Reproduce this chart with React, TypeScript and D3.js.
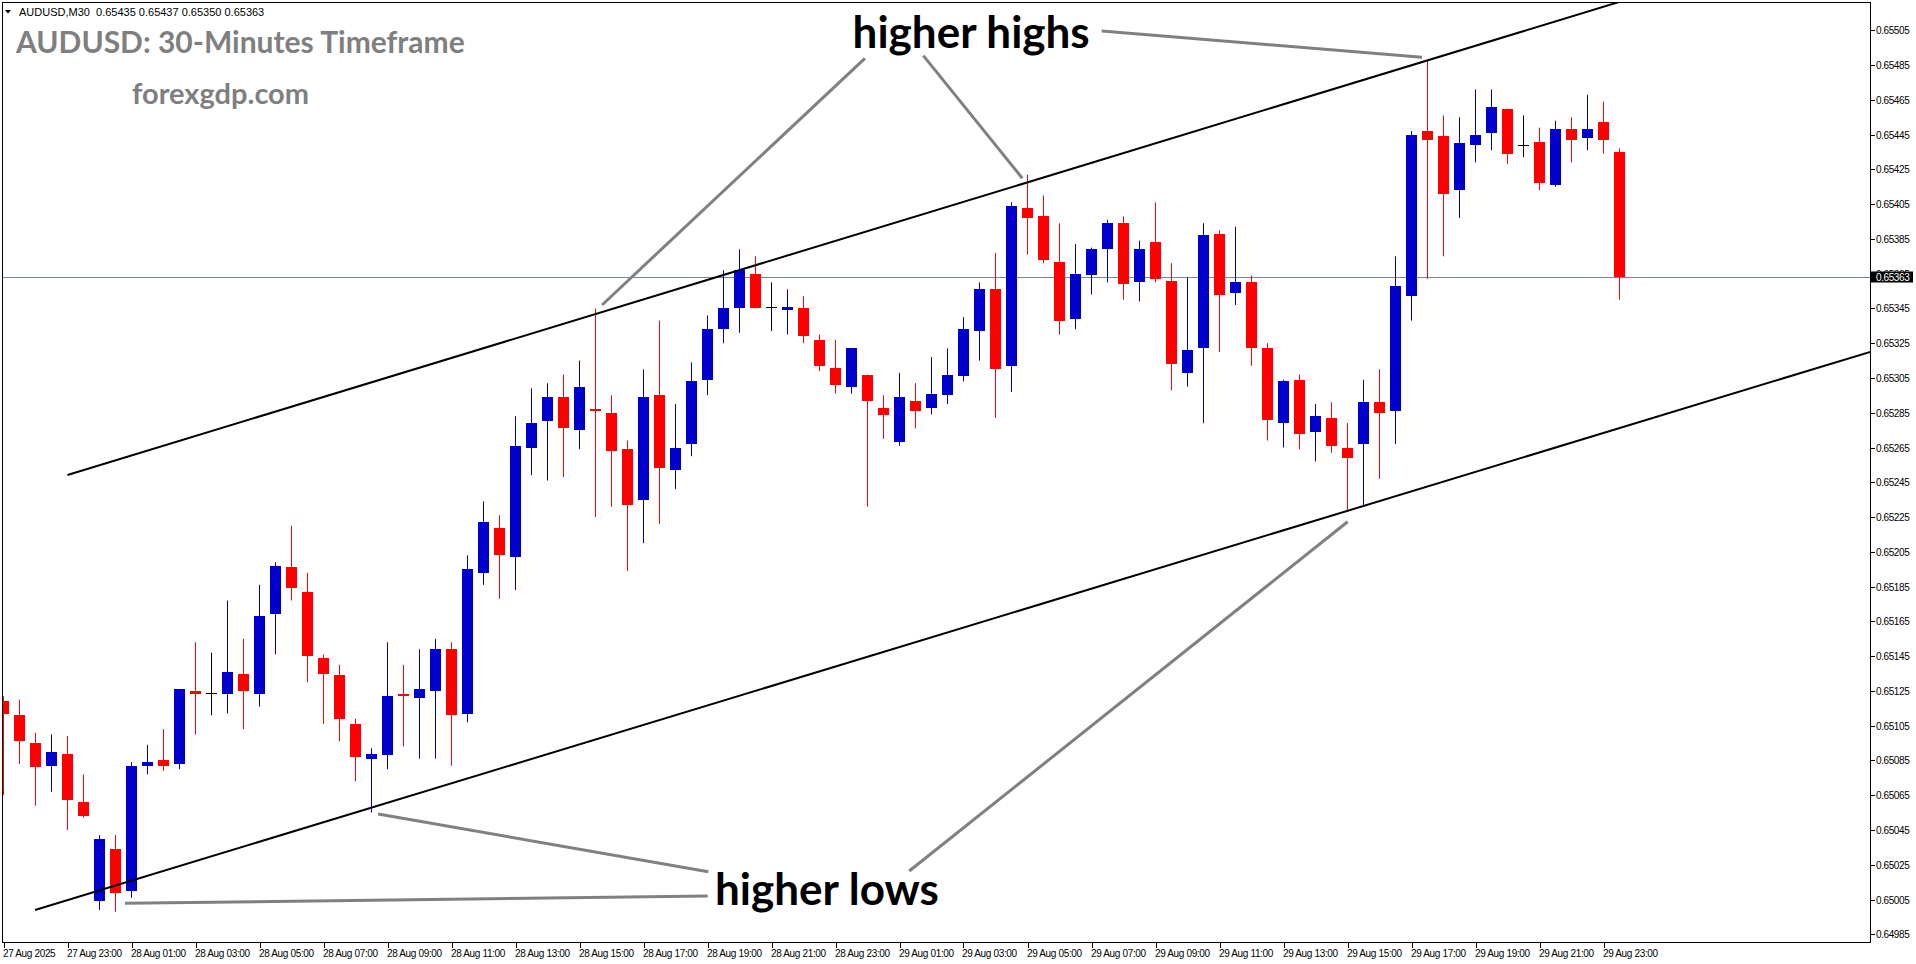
import { useEffect, useRef } from 'react';
import * as d3 from 'd3';

const WIDTH = 1916;
const HEIGHT = 964;

// 30-minute bars, bar 0 = 27 Aug 21:00
const opens = [
  0.65119, 0.65111, 0.65095, 0.65082, 0.65089, 0.65061, 0.65004, 0.65034, 0.6501, 0.65082,
  0.65085, 0.65083, 0.65125, 0.65124, 0.65123, 0.65135, 0.65123, 0.65169, 0.65196, 0.65182,
  0.65144, 0.65134, 0.65106, 0.65086, 0.65088, 0.65123, 0.65121, 0.65125, 0.65149, 0.65112,
  0.65193, 0.65219, 0.65202, 0.65265, 0.6528, 0.65294, 0.65275, 0.65287, 0.65285, 0.65264,
  0.65235, 0.65295, 0.65252, 0.65267, 0.65304, 0.65333, 0.65345, 0.65365, 0.65346, 0.65344,
  0.65345, 0.65327, 0.65311, 0.653, 0.65307, 0.65288, 0.65268, 0.65292, 0.65288, 0.65295,
  0.65306, 0.65332, 0.65356, 0.65312, 0.65403, 0.65398, 0.65372, 0.65339, 0.65364, 0.65379,
  0.65394, 0.6536, 0.65383, 0.65361, 0.65308, 0.65322, 0.65388, 0.65354, 0.6536, 0.65322,
  0.65279, 0.65304, 0.65274, 0.65282, 0.65265, 0.65267, 0.65291, 0.65286, 0.65352, 0.65447,
  0.65444, 0.65413, 0.65439, 0.65446, 0.6546, 0.65439, 0.65441, 0.65416, 0.65448, 0.65443,
  0.65452, 0.65435,
];
const highs = [
  0.65122, 0.6512, 0.65101, 0.651, 0.65099, 0.65077, 0.65042, 0.65042, 0.65084, 0.65094,
  0.65103, 0.65126, 0.65153, 0.65147, 0.65177, 0.65155, 0.65186, 0.65199, 0.6522, 0.65193,
  0.65146, 0.6514, 0.65109, 0.65092, 0.65153, 0.6514, 0.65149, 0.65155, 0.65153, 0.65203,
  0.65234, 0.65226, 0.65283, 0.65299, 0.65302, 0.65307, 0.65315, 0.65345, 0.65295, 0.65269,
  0.6531, 0.65338, 0.6529, 0.65314, 0.65341, 0.65367, 0.65379, 0.65375, 0.6536, 0.65356,
  0.65352, 0.6533, 0.65327, 0.65322, 0.65307, 0.65295, 0.65308, 0.65302, 0.65317, 0.65322,
  0.6534, 0.6536, 0.65377, 0.65406, 0.65422, 0.6541, 0.65394, 0.65382, 0.6538, 0.65396,
  0.65398, 0.65384, 0.65406, 0.65371, 0.65363, 0.65394, 0.6539, 0.65392, 0.65364, 0.65325,
  0.65304, 0.65307, 0.6529, 0.65291, 0.65279, 0.65304, 0.6531, 0.65375, 0.65447, 0.65488,
  0.65456, 0.65455, 0.65471, 0.65471, 0.6546, 0.65456, 0.65449, 0.65453, 0.65455, 0.65468,
  0.65464, 0.65437,
];
const lows = [
  0.65065, 0.65083, 0.65059, 0.65067, 0.65045, 0.65052, 0.64999, 0.64998, 0.65006, 0.65077,
  0.65079, 0.6508, 0.651, 0.65111, 0.65112, 0.65103, 0.65116, 0.65146, 0.65177, 0.6513,
  0.65106, 0.65096, 0.65073, 0.65055, 0.6508, 0.65093, 0.65086, 0.65086, 0.65082, 0.65107,
  0.65186, 0.65178, 0.65183, 0.65249, 0.65246, 0.65248, 0.65264, 0.65225, 0.65231, 0.65194,
  0.6521, 0.65221, 0.65241, 0.6526, 0.65295, 0.65325, 0.65331, 0.65345, 0.65332, 0.6533,
  0.65325, 0.65309, 0.65296, 0.65296, 0.65231, 0.6527, 0.65266, 0.65276, 0.65284, 0.6529,
  0.65303, 0.65315, 0.65282, 0.65297, 0.65376, 0.65371, 0.6533, 0.65333, 0.65353, 0.6536,
  0.6535, 0.65349, 0.6536, 0.65298, 0.653, 0.65279, 0.6532, 0.65347, 0.65312, 0.65269,
  0.65265, 0.65264, 0.65257, 0.65262, 0.65229, 0.65231, 0.65247, 0.65267, 0.65338, 0.65362,
  0.65375, 0.65397, 0.65429, 0.65436, 0.65428, 0.65432, 0.65413, 0.65415, 0.65429, 0.65436,
  0.65434, 0.6535,
];
const closes = [
  0.65112, 0.65096, 0.65081, 0.6509, 0.65062, 0.65053, 0.6504, 0.65009, 0.65082, 0.65084,
  0.65082, 0.65126, 0.65123, 0.65124, 0.65136, 0.65125, 0.65168, 0.65197, 0.65184, 0.65145,
  0.65135, 0.65109, 0.65087, 0.65089, 0.65122, 0.65122, 0.65126, 0.65149, 0.65111, 0.65195,
  0.65222, 0.65203, 0.65266, 0.65279, 0.65294, 0.65276, 0.653, 0.65286, 0.65263, 0.65232,
  0.65294, 0.65253, 0.65265, 0.65303, 0.65333, 0.65345, 0.65367, 0.65345, 0.65346, 0.65346,
  0.65329, 0.65312, 0.65301, 0.65322, 0.65292, 0.65284, 0.65294, 0.65286, 0.65296, 0.65307,
  0.65333, 0.65356, 0.6531, 0.65404, 0.65397, 0.65373, 0.65338, 0.65365, 0.65379, 0.65394,
  0.65359, 0.65379, 0.65362, 0.65313, 0.65321, 0.65387, 0.65353, 0.6536, 0.65322, 0.65281,
  0.65303, 0.65273, 0.65283, 0.65266, 0.65259, 0.65291, 0.65285, 0.65358, 0.65445, 0.65442,
  0.65411, 0.6544, 0.65445, 0.65461, 0.65434, 0.65439, 0.65417, 0.65448, 0.65442, 0.65448,
  0.65442, 0.65363,
];

const priceTicks = [
  0.65505, 0.65485, 0.65465, 0.65445, 0.65425, 0.65405, 0.65385, 0.65365, 0.65345,
  0.65325, 0.65305, 0.65285, 0.65265, 0.65245, 0.65225, 0.65205, 0.65185, 0.65165,
  0.65145, 0.65125, 0.65105, 0.65085, 0.65065, 0.65045, 0.65025, 0.65005, 0.64985,
];

const timeLabels = [
  '27 Aug 2025', '27 Aug 23:00', '28 Aug 01:00', '28 Aug 03:00', '28 Aug 05:00',
  '28 Aug 07:00', '28 Aug 09:00', '28 Aug 11:00', '28 Aug 13:00', '28 Aug 15:00',
  '28 Aug 17:00', '28 Aug 19:00', '28 Aug 21:00', '28 Aug 23:00', '29 Aug 01:00',
  '29 Aug 03:00', '29 Aug 05:00', '29 Aug 07:00', '29 Aug 09:00', '29 Aug 11:00',
  '29 Aug 13:00', '29 Aug 15:00', '29 Aug 17:00', '29 Aug 19:00', '29 Aug 21:00',
  '29 Aug 23:00',
];
const timeLabelBars = [
  0, 4, 8, 12, 16, 20, 24, 28, 32, 36, 40, 44, 48, 52, 56, 60, 64, 68, 72, 76, 80, 84, 88,
  92, 96, 100,
];

const currentPrice = 0.65363;

// channel trendlines [bar, price, bar, price], drawn as rays
const channelUpper = [4.0, 0.652492, 93.53, 0.655004];
const channelLower = [1.97, 0.64999, 116.66, 0.6532];

// pointer lines from the labels to the touches
const pointerLines = [
  [53.84, 0.654889, 37.41, 0.65347],
  [57.49, 0.654904, 63.68, 0.654199],
  [68.64, 0.655046, 88.66, 0.654895],
  [44.05, 0.65021, 23.41, 0.650542],
  [44.01, 0.65007, 7.59, 0.650028],
  [56.61, 0.650214, 84.01, 0.652223],
];
const labelTexts = ['higher highs', 'higher lows'];
const labelBars = [53.07, 44.47];
const labelPrices = [0.65495, 0.65002];

const BULL = '#0000cd';
const BEAR = '#ff0000';
const smallFont = "'Liberation Sans', Arial, sans-serif";

const App = () => {
  const svgRef = useRef<SVGSVGElement | null>(null);

  useEffect(() => {
    if (!svgRef.current) return;
    const svg = d3.select(svgRef.current);
    svg.selectAll('*').remove();

    const plot = { left: 2.5, top: 2.5, right: 1870.5, bottom: 942.5 };

    const x = d3.scaleLinear().domain([0, 101]).range([3.5, 1619.5]);
    const y = d3.scaleLinear().domain([0.64985, 0.65505]).range([934.3, 30.3]);
    const fmt = d3.format('.5f');

    svg.append('rect').attr('width', WIDTH).attr('height', HEIGHT).attr('fill', '#fff');

    svg
      .append('defs')
      .append('clipPath')
      .attr('id', 'plotClip')
      .append('rect')
      .attr('x', plot.left + 0.5)
      .attr('y', plot.top + 0.5)
      .attr('width', plot.right - plot.left - 1)
      .attr('height', plot.bottom - plot.top - 1);

    const g = svg.append('g').attr('clip-path', 'url(#plotClip)');

    // current price line
    g.append('line')
      .attr('x1', plot.left)
      .attr('x2', plot.right)
      .attr('y1', Math.round(y(currentPrice)) + 0.5)
      .attr('y2', Math.round(y(currentPrice)) + 0.5)
      .attr('stroke', '#778899')
      .attr('stroke-width', 1);

    // candles
    const bars = d3.range(opens.length);
    const colorOf = (i: number) =>
      closes[i] > opens[i] ? BULL : closes[i] < opens[i] ? BEAR : '#000';

    g.selectAll('line.wick')
      .data(bars)
      .join('line')
      .attr('class', 'wick')
      .attr('x1', (i) => x(i))
      .attr('x2', (i) => x(i))
      .attr('y1', (i) => y(highs[i]))
      .attr('y2', (i) => y(lows[i]))
      .attr('stroke', colorOf)
      .attr('stroke-width', 1);

    g.selectAll('rect.body')
      .data(bars)
      .join('rect')
      .attr('class', 'body')
      .attr('x', (i) => x(i) - 5.5)
      .attr('width', 11)
      .attr('y', (i) => Math.min(y(opens[i]), y(closes[i])))
      .attr('height', (i) => Math.max(1, Math.abs(y(opens[i]) - y(closes[i]))))
      .attr('fill', colorOf)
      .attr('shape-rendering', 'crispEdges');

    // channel trendlines (rays to the right)
    [channelUpper, channelLower].forEach(([b1, p1, b2, p2]) => {
      const slope = (p2 - p1) / (b2 - b1);
      const bEnd = 140;
      g.append('line')
        .attr('x1', x(b1))
        .attr('y1', y(p1))
        .attr('x2', x(bEnd))
        .attr('y2', y(p1 + slope * (bEnd - b1)))
        .attr('stroke', '#000')
        .attr('stroke-width', 2);
    });

    // pointer lines
    pointerLines.forEach(([b1, p1, b2, p2]) => {
      g.append('line')
        .attr('x1', x(b1))
        .attr('y1', y(p1))
        .attr('x2', x(b2))
        .attr('y2', y(p2))
        .attr('stroke', '#808080')
        .attr('stroke-width', 3);
    });

    labelTexts.forEach((t, k) => {
      g.append('text')
        .attr('x', x(labelBars[k]))
        .attr('y', y(labelPrices[k]))
        .attr('font-family', 'Lato, sans-serif')
        .attr('font-weight', 700)
        .attr('font-size', 44)
        .attr('fill', '#000')
        .text(t);
    });

    // frame
    svg
      .append('rect')
      .attr('x', plot.left)
      .attr('y', plot.top)
      .attr('width', plot.right - plot.left)
      .attr('height', plot.bottom - plot.top)
      .attr('fill', 'none')
      .attr('stroke', '#000')
      .attr('stroke-width', 1)
      .attr('shape-rendering', 'crispEdges');

    // price axis
    const ya = svg.append('g');
    priceTicks.forEach((v) => {
      const yy = Math.round(y(v)) + 0.5;
      ya.append('line')
        .attr('x1', plot.right)
        .attr('x2', plot.right + 4)
        .attr('y1', yy)
        .attr('y2', yy)
        .attr('stroke', '#000')
        .attr('shape-rendering', 'crispEdges');
      ya.append('text')
        .attr('x', 1876)
        .attr('y', yy + 3.6)
        .attr('font-family', smallFont)
        .attr('font-size', 10)
        .attr('letter-spacing', -0.4)
        .attr('fill', '#000')
        .text(fmt(v));
    });
    const cy = Math.round(y(currentPrice)) + 0.5;
    ya.append('rect')
      .attr('x', 1871)
      .attr('y', cy - 6)
      .attr('width', 42)
      .attr('height', 11)
      .attr('fill', '#000');
    ya.append('text')
      .attr('x', 1876)
      .attr('y', cy + 3.6)
      .attr('font-family', smallFont)
      .attr('font-size', 10)
      .attr('letter-spacing', -0.4)
      .attr('fill', '#fff')
      .text(fmt(currentPrice));

    // time axis
    const xa = svg.append('g');
    timeLabels.forEach((label, k) => {
      const xx = Math.round(x(timeLabelBars[k])) + 0.5;
      xa.append('line')
        .attr('x1', xx)
        .attr('x2', xx)
        .attr('y1', plot.bottom)
        .attr('y2', plot.bottom + 5)
        .attr('stroke', '#000')
        .attr('shape-rendering', 'crispEdges');
      xa.append('text')
        .attr('x', xx - 1.5)
        .attr('y', 956.5)
        .attr('font-family', smallFont)
        .attr('font-size', 10)
        .attr('letter-spacing', -0.35)
        .attr('fill', '#000')
        .text(label);
    });

    // header
    svg
      .append('path')
      .attr('d', 'M5,10 L11,10 L8,13.5 Z')
      .attr('fill', '#000');
    svg
      .append('text')
      .attr('x', 19)
      .attr('y', 15.5)
      .attr('font-family', smallFont)
      .attr('font-size', 11)
      .attr('fill', '#000')
      .style('white-space', 'pre')
      .text(
        `AUDUSD,M30  ${fmt(opens[101])} ${fmt(highs[101])} ${fmt(lows[101])} ${fmt(closes[101])}`
      );

    svg
      .append('text')
      .attr('x', 16)
      .attr('y', 53)
      .attr('font-family', 'Lato, sans-serif')
      .attr('font-weight', 700)
      .attr('font-size', 30)
      .attr('fill', '#7f7f7f')
      .text('AUDUSD: 30-Minutes Timeframe');
    svg
      .append('text')
      .attr('x', 132)
      .attr('y', 104)
      .attr('font-family', 'Lato, sans-serif')
      .attr('font-weight', 700)
      .attr('font-size', 29)
      .attr('fill', '#7f7f7f')
      .text('forexgdp.com');
  }, []);

  return (
    <svg
      ref={svgRef}
      width={WIDTH}
      height={HEIGHT}
      style={{ position: 'absolute', left: 0, top: 0, display: 'block' }}
    />
  );
};

export default App;
